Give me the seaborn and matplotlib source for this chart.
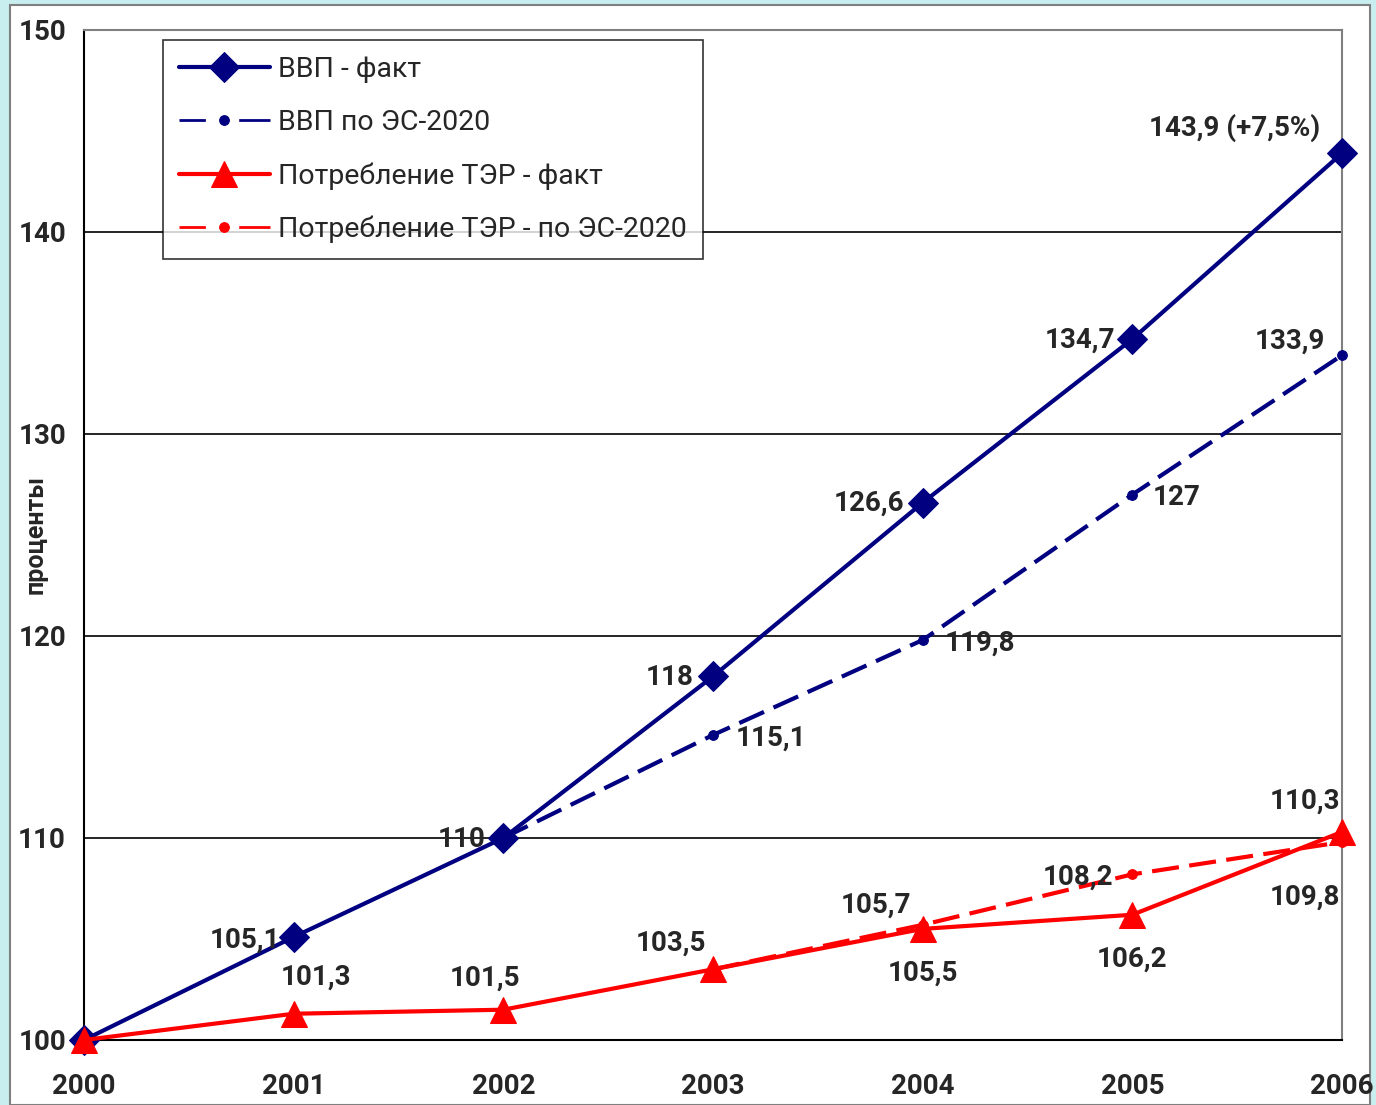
import numpy as np
import seaborn as sns
import matplotlib.pyplot as plt
from matplotlib.patches import Rectangle

# data (index 2000 = 100)
years = [2000, 2001, 2002, 2003, 2004, 2005, 2006]
gdp_fact = [100, 105.1, 110, 118, 126.6, 134.7, 143.9]
gdp_plan = [np.nan, np.nan, 110, 115.1, 119.8, 127, 133.9]
ter_fact = [100, 101.3, 101.5, 103.5, 105.5, 106.2, 110.3]
ter_plan = [np.nan, np.nan, np.nan, 103.5, 105.7, 108.2, 109.8]

gdp_fact_labels = ['', '105,1', '110', '118', '126,6', '134,7', '143,9 (+7,5%)']
gdp_plan_labels = ['', '', '', '115,1', '119,8', '127', '133,9']
ter_fact_labels = ['', '101,3', '101,5', '103,5', '105,5', '106,2', '110,3']
ter_plan_labels = ['', '', '', '', '105,7', '108,2', '109,8']

series_names = ['ВВП - факт', 'ВВП по ЭС-2020',
                'Потребление ТЭР - факт', 'Потребление ТЭР - по ЭС-2020']

sns.set_style("white")
plt.rcParams['font.family'] = ['Roboto', 'DejaVu Sans']

NAVY = '#000080'
RED = '#ff0000'

fig = plt.figure(figsize=(13.76, 11.05), dpi=100, facecolor='#c9eef0')
# white slide panel with grey frame
fig.patches.append(Rectangle((10 / 1376, 0), 1360 / 1376, 1100 / 1105,
                             transform=fig.transFigure, facecolor='white',
                             edgecolor='#7f7f7f', linewidth=1.5, zorder=-5))
ax = fig.add_axes([84 / 1376, 65 / 1105, 1258 / 1376, 1010 / 1105])
ax.set_facecolor('white')
ax.set_zorder(2)

sns.lineplot(x=years, y=gdp_plan, ax=ax, color=NAVY, lw=3, marker='o', ms=7,
             mec=NAVY, linestyle=(0, (6.5, 2.5)), clip_on=False,
             label=series_names[1], zorder=3)
sns.lineplot(x=years, y=gdp_fact, ax=ax, color=NAVY, lw=3, marker='D', ms=15,
             mec=NAVY, clip_on=False, label=series_names[0], zorder=4)
sns.lineplot(x=years, y=ter_plan, ax=ax, color=RED, lw=3, marker='o', ms=7,
             mec=RED, linestyle=(0, (6.5, 2.5)), clip_on=False,
             label=series_names[3], zorder=5)
sns.lineplot(x=years, y=ter_fact, ax=ax, color=RED, lw=3, marker='^', ms=19,
             mec=RED, clip_on=False, label=series_names[2], zorder=6)

ax.set_xlim(2000, 2006)
ax.set_ylim(100, 150)
ax.set_xticks(years)
ax.set_yticks(range(100, 151, 10))
ax.yaxis.grid(True, color='black', lw=1.2)
ax.set_axisbelow(True)
for side in ['top', 'right']:
    ax.spines[side].set_color('#808080')
    ax.spines[side].set_linewidth(1.5)
for side in ['left', 'bottom']:
    ax.spines[side].set_color('black')
    ax.spines[side].set_linewidth(1.5)
ax.tick_params(axis='both', direction='out', length=8, width=1.2, color='black',
               labelsize=20, pad=5)
for lab in ax.get_xticklabels() + ax.get_yticklabels():
    lab.set_fontweight('bold')
ax.tick_params(axis='x', pad=16)

ax.set_ylabel('проценты', fontsize=18, fontweight='bold')
ax.yaxis.set_label_coords(-0.029, 0.5)
ax.set_xlabel('')

# data labels: (offset in points, horizontal alignment), None = no label
def label_series(values, labels, offsets):
    for x, v, t, off in zip(years, values, labels, offsets):
        if t and off:
            dx, dy, ha = off
            ax.annotate(t, (x, v), xytext=(dx, dy), textcoords='offset points',
                        ha=ha, va='center', fontsize=20, fontweight='bold',
                        annotation_clip=False, zorder=10)

label_series(gdp_fact, gdp_fact_labels,
             [None, (-10, -2, 'right'), (-13, -1, 'right'), (-14, -1, 'right'),
              (-13, 0, 'right'), (-12, -1, 'right'), (-16, 18, 'right')])
label_series(gdp_plan, gdp_plan_labels,
             [None, None, None, (16, -2, 'left'), (16, -2, 'left'),
              (15, -2, 'left'), (-12, 10, 'right')])
label_series(ter_fact, ter_fact_labels,
             [None, (16, 26, 'center'), (-13, 23, 'center'), (-30, 19, 'center'),
              (0, -32, 'center'), (0, -32, 'center'), (-27, 22, 'center')])
label_series(ter_plan, ter_plan_labels,
             [None, None, None, None, (-34, 14, 'center'), (-14, -2, 'right'),
              (-27, -40, 'center')])

handles, labels = ax.get_legend_handles_labels()
order = [labels.index(n) for n in series_names]
leg = ax.legend([handles[i] for i in order], [labels[i] for i in order],
                loc='upper left', bbox_to_anchor=(0.0628, 0.990), borderaxespad=0,
                fontsize=20.5, frameon=True, fancybox=False, edgecolor='black',
                handlelength=3.2, handletextpad=0.3, labelspacing=0.92,
                borderpad=0.55)
leg.get_frame().set_linewidth(1.2)
leg.set_zorder(20)
# legend samples of the forecast series: dash - dot - dash
for ln, name in zip(leg.get_lines(), [labels[i] for i in order]):
    if 'ЭС-2020' in name:
        ln.set_linewidth(2)
        ln.set_linestyle((0, (9.5, 12, 20, 5)))

fig.savefig('out.png', dpi=100, facecolor=fig.get_facecolor())
